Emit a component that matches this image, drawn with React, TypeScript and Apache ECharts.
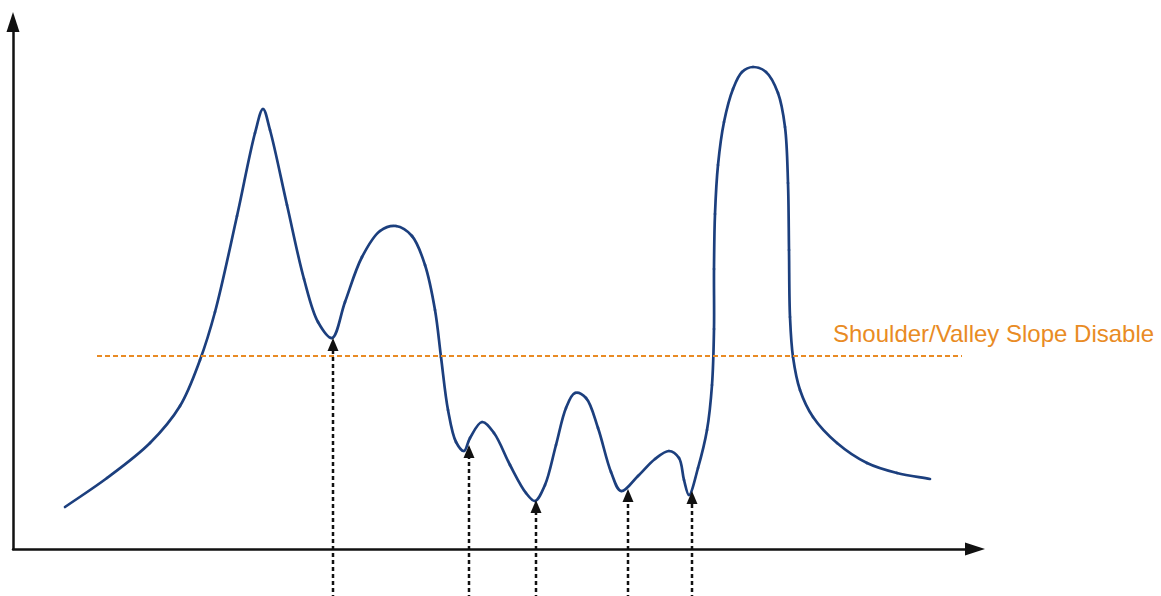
import React, { useEffect, useRef } from "react";
import * as echarts from "echarts";

// Curve (x, signal) pairs
const curveX = [52, 94, 137, 167, 187, 202, 224, 242, 250, 257, 274, 291, 305, 319, 332, 349, 367, 383, 399, 412, 422, 428, 435, 443, 451, 457, 469, 481, 497, 513, 522, 532, 543, 553, 562, 573, 585, 598, 608, 625, 642, 656, 666, 671, 676, 685, 694, 699, 701, 701, 702, 705, 711, 720, 729, 740, 753, 765, 772, 775, 776, 777, 780, 787, 800, 824, 854, 884, 917];
const curveY = [42, 71, 106, 143, 189, 237, 333, 416, 440, 419, 344, 270, 227, 211, 247, 292, 318, 323, 313, 284, 239, 192, 139, 107, 98, 111, 127, 116, 84, 56, 48, 64, 104, 141, 156, 151, 121, 77, 58, 73, 90, 98, 91, 69, 54, 81, 119, 164, 220, 280, 335, 384, 427, 460, 477, 482, 477, 456, 422, 366, 299, 232, 192, 159, 132, 106, 86, 76, 70];

// Valley marker arrows (x, tip value)
const valleyX = [320, 456, 523, 615, 679];
const valleyTip = [211, 104, 49, 60, 58];

// Threshold line
const thresholdValue = 193;
const thresholdStart = 84;
const thresholdEnd = 949;
const thresholdLabel = "Shoulder/Valley Slope Disable";

const X_MAX = 962;
const Y_MAX = 527;
const ARROW_BOTTOM = -50;

// centripetal Catmull-Rom -> cubic bezier control points (pixel space)
function controlPoints(p0: number[], p1: number[], p2: number[], p3: number[]) {
  const dist = (a: number[], b: number[]) => Math.hypot(a[0] - b[0], a[1] - b[1]);
  const d1 = Math.sqrt(dist(p0, p1));
  const d2 = Math.sqrt(dist(p1, p2));
  const d3 = Math.sqrt(dist(p2, p3));
  let c1: number[];
  let c2: number[];
  if (d1 > 1e-6) {
    const den = 3 * d1 * (d1 + d2);
    c1 = [0, 1].map(
      (k) => (d1 * d1 * p2[k] - d2 * d2 * p0[k] + (2 * d1 * d1 + 3 * d1 * d2 + d2 * d2) * p1[k]) / den
    );
  } else {
    c1 = [p1[0] + (p2[0] - p1[0]) / 3, p1[1] + (p2[1] - p1[1]) / 3];
  }
  if (d3 > 1e-6) {
    const den = 3 * d3 * (d3 + d2);
    c2 = [0, 1].map(
      (k) => (d3 * d3 * p1[k] - d2 * d2 * p3[k] + (2 * d3 * d3 + 3 * d3 * d2 + d2 * d2) * p2[k]) / den
    );
  } else {
    c2 = [p2[0] + (p1[0] - p2[0]) / 3, p2[1] + (p1[1] - p2[1]) / 3];
  }
  return [c1, c2];
}

export default function App() {
  const ref = useRef<HTMLDivElement>(null);
  useEffect(() => {
    if (!ref.current) return;
    const chart = echarts.init(ref.current, undefined, { renderer: "svg" });
    const data = curveX.map((x, i) => [x, curveY[i]]);
    const arrows = valleyX.map((x, i) => [x, valleyTip[i]]);
    const n = curveX.length;
    const axisLine = {
      show: true,
      symbol: ["none", "triangle"],
      symbolSize: [13, 20],
      lineStyle: { color: "#111", width: 2.5 },
    };
    chart.setOption({
      animation: false,
      backgroundColor: "#ffffff",
      grid: { left: 13, top: 22, right: 1161 - 975, bottom: 596 - 549, containLabel: false },
      xAxis: {
        type: "value",
        min: 0,
        max: X_MAX,
        axisLine,
        axisTick: { show: false },
        axisLabel: { show: false },
        splitLine: { show: false },
      },
      yAxis: {
        type: "value",
        min: 0,
        max: Y_MAX,
        axisLine,
        axisTick: { show: false },
        axisLabel: { show: false },
        splitLine: { show: false },
      },
      graphic: [
        {
          type: "text",
          x: 833,
          y: 333,
          silent: true,
          style: {
            text: thresholdLabel,
            font: '24px "Liberation Sans", Arial, sans-serif',
            fill: "#E98B24",
            verticalAlign: "middle",
            align: "left",
          },
        },
      ],
      series: [
        {
          type: "custom",
          name: "signal",
          data,
          clip: false,
          silent: true,
          encode: { x: 0, y: 1 },
          renderItem: (params: any, api: any) => {
            const i = params.dataIndex;
            if (i >= n - 1) return null;
            const pt = (j: number) => {
              const k = Math.max(0, Math.min(n - 1, j));
              return api.coord([curveX[k], curveY[k]]);
            };
            const p0 = pt(i - 1);
            const p1 = pt(i);
            const p2 = pt(i + 1);
            const p3 = pt(i + 2);
            const [c1, c2] = controlPoints(p0, p1, p2, p3);
            return {
              type: "bezierCurve",
              shape: {
                x1: p1[0],
                y1: p1[1],
                x2: p2[0],
                y2: p2[1],
                cpx1: c1[0],
                cpy1: c1[1],
                cpx2: c2[0],
                cpy2: c2[1],
              },
              style: { stroke: "#1C3F7E", lineWidth: 2.7, fill: null, lineCap: "round" },
            };
          },
        },
        {
          type: "line",
          data: [],
          symbol: "none",
          silent: true,
          clip: false,
          markLine: {
            silent: true,
            symbol: ["none", "none"],
            label: { show: false },
            emphasis: { disabled: true },
            lineStyle: { color: "#E98B24", width: 2.2, type: [5, 3] },
            data: [
              [
                { coord: [thresholdStart, thresholdValue] },
                { coord: [thresholdEnd, thresholdValue] },
              ],
            ],
          },
        },
        {
          type: "custom",
          data: arrows,
          clip: false,
          silent: true,
          encode: { x: 0, y: 1 },
          renderItem: (params: any, api: any) => {
            const x = api.value(0);
            const base = api.coord([x, ARROW_BOTTOM]);
            const tip = api.coord([x, api.value(1)]);
            return {
              type: "group",
              children: [
                {
                  type: "line",
                  shape: { x1: base[0], y1: base[1], x2: tip[0], y2: tip[1] + 10 },
                  style: { stroke: "#111", lineWidth: 2.5, lineDash: [4, 3] },
                },
                {
                  type: "polygon",
                  shape: {
                    points: [
                      [tip[0], tip[1]],
                      [tip[0] - 5.5, tip[1] + 13],
                      [tip[0] + 5.5, tip[1] + 13],
                    ],
                  },
                  style: { fill: "#111" },
                },
              ],
            };
          },
        },
      ],
    });
    return () => chart.dispose();
  }, []);
  return (
    <div
      ref={ref}
      style={{ position: "fixed", left: 0, top: 0, width: 1161, height: 596 }}
    />
  );
}
